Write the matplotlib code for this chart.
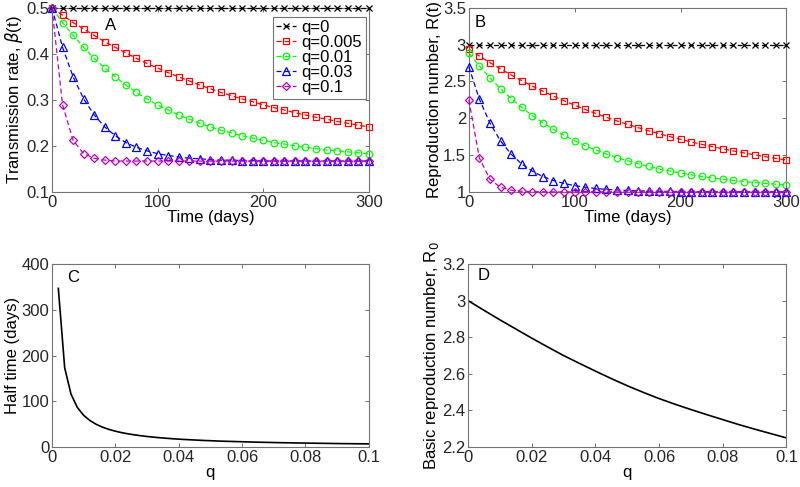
import numpy as np
import matplotlib.pyplot as plt
from matplotlib.ticker import FormatStrFormatter

plt.rcParams['font.family'] = ['Liberation Sans', 'DejaVu Sans']
plt.rcParams['mathtext.fontset'] = 'dejavusans'
plt.rcParams['font.size'] = 12

# time (days), markers every 10 days
t = np.arange(0, 301, 10)
q_labels = ['q=0', 'q=0.005', 'q=0.01', 'q=0.03', 'q=0.1']

# panel A: transmission rate beta(t)
beta_q0 = [0.5] * 31
beta_q005 = [0.500, 0.484, 0.468, 0.454, 0.440, 0.426, 0.414, 0.402, 0.390, 0.379, 0.369,
             0.359, 0.350, 0.341, 0.332, 0.324, 0.316, 0.309, 0.302, 0.296, 0.289,
             0.283, 0.278, 0.272, 0.267, 0.262, 0.258, 0.253, 0.249, 0.245, 0.241]
beta_q01 = [0.500, 0.468, 0.440, 0.414, 0.390, 0.369, 0.350, 0.332, 0.316, 0.302, 0.289,
            0.278, 0.267, 0.258, 0.249, 0.241, 0.234, 0.228, 0.222, 0.217, 0.212,
            0.207, 0.204, 0.200, 0.197, 0.194, 0.191, 0.189, 0.187, 0.185, 0.183]
beta_q03 = [0.500, 0.414, 0.350, 0.302, 0.267, 0.241, 0.222, 0.207, 0.197, 0.189, 0.183,
            0.179, 0.176, 0.173, 0.172, 0.170, 0.169, 0.169, 0.168, 0.168, 0.167,
            0.167, 0.167, 0.167, 0.167, 0.167, 0.167, 0.167, 0.167, 0.167, 0.167]
beta_q1 = [0.500, 0.289, 0.212, 0.183, 0.173, 0.169, 0.167, 0.167, 0.167, 0.167, 0.167,
           0.167, 0.167, 0.167, 0.167, 0.167, 0.167, 0.167, 0.167, 0.167, 0.167,
           0.167, 0.167, 0.167, 0.167, 0.167, 0.167, 0.167, 0.167, 0.167, 0.167]

# panel B: reproduction number R(t)
R_q0 = [3.0] * 31
R_q005 = [2.940, 2.845, 2.755, 2.670, 2.588, 2.511, 2.437, 2.367, 2.300, 2.237, 2.177,
          2.119, 2.065, 2.013, 1.963, 1.916, 1.872, 1.829, 1.789, 1.750, 1.714,
          1.679, 1.646, 1.614, 1.584, 1.556, 1.529, 1.503, 1.478, 1.455, 1.433]
R_q01 = [2.890, 2.710, 2.547, 2.400, 2.267, 2.146, 2.037, 1.939, 1.849, 1.768, 1.695,
         1.629, 1.569, 1.515, 1.466, 1.422, 1.382, 1.345, 1.312, 1.283, 1.256,
         1.232, 1.209, 1.190, 1.171, 1.155, 1.140, 1.127, 1.115, 1.104, 1.094]
R_q03 = [2.700, 2.259, 1.933, 1.691, 1.512, 1.379, 1.281, 1.208, 1.154, 1.114, 1.085,
         1.063, 1.046, 1.034, 1.026, 1.019, 1.014, 1.010, 1.008, 1.006, 1.004,
         1.003, 1.002, 1.002, 1.001, 1.001, 1.001, 1.000, 1.000, 1.000, 1.000]
R_q1 = [2.250, 1.460, 1.169, 1.062, 1.023, 1.008, 1.003, 1.001, 1.000, 1.000, 1.000,
        1.000, 1.000, 1.000, 1.000, 1.000, 1.000, 1.000, 1.000, 1.000, 1.000,
        1.000, 1.000, 1.000, 1.000, 1.000, 1.000, 1.000, 1.000, 1.000, 1.000]

# panel C: half time vs q
q_half = np.arange(1, 51) * 0.002
half_time = [346.6, 173.3, 115.5, 86.6, 69.3, 57.8, 49.5, 43.3, 38.5, 34.7,
             31.5, 28.9, 26.7, 24.8, 23.1, 21.7, 20.4, 19.3, 18.2, 17.3,
             16.5, 15.8, 15.1, 14.4, 13.9, 13.3, 12.8, 12.4, 12.0, 11.6,
             11.2, 10.8, 10.5, 10.2, 9.9, 9.6, 9.4, 9.1, 8.9, 8.7,
             8.5, 8.3, 8.1, 7.9, 7.7, 7.5, 7.4, 7.2, 7.1, 6.9]

# panel D: basic reproduction number vs q
q_r0 = np.arange(0, 21) * 0.005
R0 = [3.000, 2.947, 2.895, 2.845, 2.795, 2.747, 2.700, 2.657, 2.615, 2.574, 2.535,
      2.499, 2.465, 2.434, 2.405, 2.377, 2.350, 2.323, 2.298, 2.274, 2.250]

colors = ['k', 'r', (0, 1, 0), 'b', 'm']
markers = ['x', 's', 'o', '^', 'D']
msizes = [4.5, 4.3, 4.8, 5.2, 4.0]

fig = plt.figure(figsize=(8, 4.87), dpi=100)
axA = fig.add_axes([0.065, 0.606, 0.396, 0.378])
axB = fig.add_axes([0.586, 0.606, 0.397, 0.378])
axC = fig.add_axes([0.065, 0.082, 0.396, 0.376])
axD = fig.add_axes([0.585, 0.082, 0.398, 0.376])


def style(ax):
    ax.tick_params(direction='in', top=True, right=True, length=3, width=0.6,
                   colors='0.35', labelcolor='0.15', pad=2)
    for s in ax.spines.values():
        s.set_color('0.45')
        s.set_linewidth(0.8)


for ax, series in [(axA, [beta_q0, beta_q005, beta_q01, beta_q03, beta_q1]),
                   (axB, [R_q0, R_q005, R_q01, R_q03, R_q1])]:
    for i, y in enumerate(series):
        ax.plot(t, y, '--', color=colors[i], marker=markers[i], ms=msizes[i],
                mfc='none', mec=colors[i], mew=0.9, lw=0.9, label=q_labels[i],
                dashes=(4, 2.5), clip_on=False, zorder=3 + i)
    ax.set_xlim(0, 300)
    ax.set_xticks([0, 100, 200, 300])
    ax.set_xlabel('Time (days)', labelpad=0)
    style(ax)

axA.set_ylim(0.1, 0.5)
axA.set_yticks([0.1, 0.2, 0.3, 0.4, 0.5])
axA.set_ylabel(r'Transmission rate, $\beta$(t)', labelpad=1)
leg = axA.legend(loc='upper right', bbox_to_anchor=(0.99, 0.95), handlelength=1.2,
                 handletextpad=0.35, borderpad=0.2, labelspacing=0.0, fancybox=False,
                 framealpha=1, edgecolor='0.45', borderaxespad=0)
leg.get_frame().set_linewidth(0.8)

axB.set_ylim(1, 3.5)
axB.set_yticks([1, 1.5, 2, 2.5, 3, 3.5])
axB.yaxis.set_major_formatter(FormatStrFormatter('%g'))
axB.set_ylabel('Reproduction number, R(t)', labelpad=1)

axC.plot(q_half, half_time, 'k-', lw=1.2)
axC.set_xlim(0, 0.1)
axC.set_ylim(0, 400)
axC.set_yticks([0, 100, 200, 300, 400])
axC.set_xticks([0, 0.02, 0.04, 0.06, 0.08, 0.1])
axC.xaxis.set_major_formatter(FormatStrFormatter('%g'))
axC.set_xlabel('q', labelpad=0)
axC.set_ylabel('Half time (days)', labelpad=1)
style(axC)

axD.plot(q_r0, R0, 'k-', lw=1.2)
axD.set_xlim(0, 0.1)
axD.set_ylim(2.2, 3.2)
axD.set_yticks([2.2, 2.4, 2.6, 2.8, 3.0, 3.2])
axD.yaxis.set_major_formatter(FormatStrFormatter('%g'))
axD.set_xticks([0, 0.02, 0.04, 0.06, 0.08, 0.1])
axD.xaxis.set_major_formatter(FormatStrFormatter('%g'))
axD.set_xlabel('q', labelpad=0)
axD.set_ylabel('Basic reproduction number, R$_0$', labelpad=1)
style(axD)

# panel letters
axA.text(0.185, 0.905, 'A', transform=axA.transAxes, ha='center', va='center', fontsize=12)
axB.text(0.037, 0.92, 'B', transform=axB.transAxes, ha='center', va='center', fontsize=12)
axC.text(0.068, 0.925, 'C', transform=axC.transAxes, ha='center', va='center', fontsize=12)
axD.text(0.048, 0.935, 'D', transform=axD.transAxes, ha='center', va='center', fontsize=12)

fig.savefig('out.png', dpi=100)
